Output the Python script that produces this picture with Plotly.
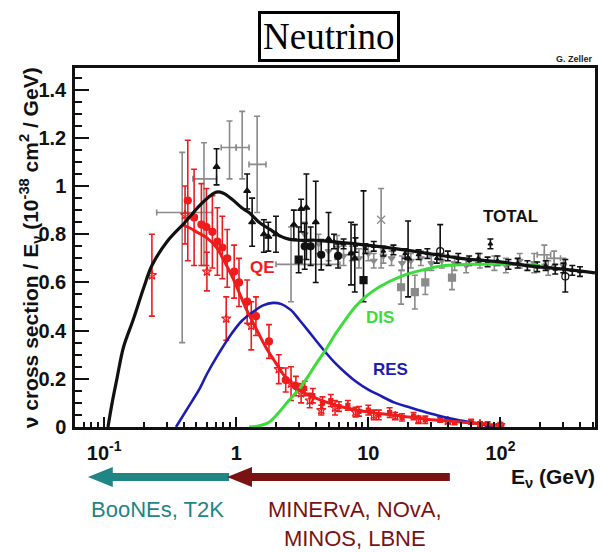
import math
import plotly.graph_objects as go

# ---------------- data ----------------
# model curves (E in GeV, sigma/E in 1e-38 cm^2/GeV)
total_E = [0.107, 0.115, 0.125, 0.14, 0.166, 0.2, 0.23, 0.3, 0.41, 0.53, 0.62, 0.71, 0.8, 0.93,
           1.1, 1.25, 1.49, 1.8, 2.2, 2.5, 3.0, 4.0, 5.0, 8.0, 16, 25, 50, 100, 160, 300, 520]
total_y = [0.0, 0.10, 0.2, 0.33, 0.445, 0.58, 0.67, 0.77, 0.85, 0.92, 0.955, 0.975, 0.97, 0.945,
           0.91, 0.89, 0.85, 0.82, 0.79, 0.78, 0.775, 0.775, 0.77, 0.76, 0.74, 0.725, 0.70, 0.685,
           0.67, 0.655, 0.64]

qe_E = [0.39, 0.45, 0.5, 0.6, 0.71, 0.8, 0.93, 1.05, 1.19, 1.41, 1.68, 2.0, 2.37, 2.97, 4.0,
        5.0, 6.7, 10, 15, 21, 30, 40, 67, 107]
qe_y = [0.84, 0.825, 0.81, 0.785, 0.745, 0.695, 0.625, 0.56, 0.49, 0.41, 0.33, 0.265, 0.205,
        0.155, 0.12, 0.10, 0.08, 0.062, 0.05, 0.04, 0.03, 0.025, 0.015, 0.004]

res_E = [0.35, 0.42, 0.53, 0.6, 0.71, 0.93, 1.1, 1.32, 1.6, 1.9, 2.2, 2.6, 3.0, 3.5, 4.0, 4.75,
         5.5, 6.7, 8, 10, 12, 16, 21, 30, 38, 50, 67, 90]
res_y = [0.0, 0.07, 0.16, 0.22, 0.29, 0.39, 0.44, 0.475, 0.505, 0.515, 0.51, 0.485, 0.445, 0.40,
         0.36, 0.31, 0.27, 0.225, 0.19, 0.155, 0.133, 0.10, 0.08, 0.055, 0.04, 0.027, 0.015, 0.0]

dis_E = [1.25, 1.5, 1.77, 2.1, 2.5, 2.97, 3.5, 4.0, 4.75, 5.7, 6.7, 8, 9.5, 12, 17.7, 25, 38,
         60, 120, 200]
dis_y = [0.0, 0.005, 0.02, 0.06, 0.11, 0.155, 0.21, 0.26, 0.32, 0.39, 0.445, 0.50, 0.54, 0.58,
         0.625, 0.65, 0.67, 0.675, 0.675, 0.67]

# QE data (red)
red_E = [0.43, 0.48, 0.545, 0.595, 0.66, 0.72, 0.785, 0.855, 0.965, 1.05, 1.21, 1.41, 1.77, 2.37, 2.83]
red_y = [0.94, 0.87, 0.84, 0.83, 0.81, 0.77, 0.745, 0.70, 0.645, 0.60, 0.52, 0.46, 0.355, 0.195, 0.17]
red_err = [0.25, 0.20, 0.17, 0.16, 0.15, 0.14, 0.13, 0.12, 0.11, 0.10, 0.09, 0.08, 0.07, 0.05, 0.04]

redo_E = [0.23, 0.41, 0.6, 0.84, 1.3, 2.1, 2.6, 3.1, 3.6, 4.4, 5.6, 8.0, 11, 16, 24, 40, 70, 100]
redo_y = [0.63, 0.88, 0.645, 0.45, 0.42, 0.24, 0.18, 0.14, 0.11, 0.07, 0.08, 0.062, 0.05, 0.045,
          0.03, 0.025, 0.012, 0.008]
redo_err = [0.17, 0.12, 0.08, 0.09, 0.10, 0.06, 0.07, 0.04, 0.03, 0.02, 0.03, 0.02, 0.02, 0.015,
            0.015, 0.01, 0.01, 0.01]

reds_E = [3.3, 3.8, 4.5, 5.2, 6.0, 7.0, 8.5, 10, 12, 14.5, 18, 22, 27, 35, 45, 60, 80]
reds_y = [0.16, 0.13, 0.10, 0.11, 0.085, 0.09, 0.065, 0.07, 0.05, 0.06, 0.04, 0.045, 0.03, 0.03,
          0.02, 0.022, 0.012]
reds_err = [0.03, 0.03, 0.025, 0.025, 0.02, 0.02, 0.02, 0.02, 0.02, 0.02, 0.015, 0.015, 0.015,
            0.01, 0.01, 0.01, 0.01]

# gray data with horizontal bins
grx_E = [0.39, 0.57, 0.89, 1.11, 1.44, 2.6]
grx_y = [0.89, 1.03, 1.16, 1.16, 1.09, 0.675]
grx_xm = [0.14, 0.10, 0.12, 0.11, 0.19, 0.6]
grx_xp = [0.27, 0.14, 0.11, 0.14, 0.24, 3.5]
grx_yp = [0.25, 0.15, 0.11, 0.15, 0.20, 0.155]
grx_ym = [0.54, 0.36, 0.13, 0.13, 0.20, 0.155]

gray2_E = [3.3, 4.2, 5.0, 5.8, 6.5, 7.5, 8.5, 10, 11, 13, 15, 18, 21, 25, 30, 36, 45, 55, 70,
           90, 110, 140, 180, 230, 300]
gray2_y = [0.80, 0.76, 0.73, 0.745, 0.71, 0.72, 0.70, 0.72, 0.69, 0.71, 0.70, 0.68, 0.69, 0.70,
           0.68, 0.69, 0.68, 0.67, 0.69, 0.68, 0.67, 0.69, 0.68, 0.66, 0.67]
gray2_err = [0.05, 0.04, 0.04, 0.05, 0.04, 0.03, 0.04, 0.03, 0.03, 0.03, 0.03, 0.03, 0.03, 0.03,
             0.03, 0.03, 0.03, 0.03, 0.03, 0.03, 0.03, 0.03, 0.04, 0.03, 0.03]

grsq_E = [17.7, 22.5, 27, 43]
grsq_y = [0.58, 0.56, 0.60, 0.62]
grsq_err = [0.07, 0.07, 0.05, 0.05]

grc_E = [215, 255]
grc_y = [0.715, 0.70]
grc_xerr = [25, 30]
grc_err = [0.04, 0.03]

grx2_E = [12.5]
grx2_y = [0.86]
grx2_ep = [0.13]
grx2_em = [0.20]

# black data
blt_E = [0.71, 1.21, 1.32, 1.62, 1.75, 2.0, 2.73, 3.1, 3.4, 4.0, 5.0, 7.4, 7.9, 20]
blt_y = [1.08, 0.98, 0.85, 0.80, 0.79, 0.80, 0.84, 0.905, 0.91, 0.85, 0.78, 0.72, 0.70, 0.70]
blt_ep = [0.075, 0.07, 0.10, 0.06, 0.06, 0.075, 0.06, 0.04, 0.14, 0.17, 0.11, 0.13, 0.14, 0.155]
blt_em = [0.075, 0.075, 0.10, 0.075, 0.06, 0.075, 0.06, 0.095, 0.215, 0.25, 0.11, 0.13, 0.14, 0.16]

blc_E = [3.3, 3.66, 4.4, 5.9]
blc_y = [0.75, 0.75, 0.715, 0.71]
blc_err = [0.095, 0.08, 0.063, 0.05]

bls_E = [2.97, 9.2]
bls_y = [0.695, 0.61]
bls_ep = [0.135, 0.37]
bls_em = [0.055, 0.09]

blo_E = [35, 310]
blo_y = [0.73, 0.625]
blo_ep = [0.11, 0.07]
blo_em = [0.035, 0.065]

bld_E = [5.5, 6.5, 8, 9.5, 11, 13, 15.5, 19, 24, 28, 33, 40, 48, 58, 68, 80, 84, 95, 115, 135,
         160, 190, 220, 260, 300, 350, 400]
bld_y = [0.77, 0.76, 0.755, 0.74, 0.75, 0.73, 0.735, 0.72, 0.715, 0.72, 0.70, 0.71, 0.70, 0.69,
         0.70, 0.685, 0.76, 0.69, 0.675, 0.68, 0.67, 0.665, 0.67, 0.655, 0.66, 0.65, 0.645]
bld_err = [0.03, 0.02, 0.03, 0.02, 0.02, 0.02, 0.02, 0.02, 0.02, 0.02, 0.02, 0.02, 0.02, 0.02,
           0.02, 0.02, 0.02, 0.02, 0.02, 0.02, 0.02, 0.02, 0.02, 0.02, 0.02, 0.02, 0.02]

# axis ticks
y_ticks = [0, 0.2, 0.4, 0.6, 0.8, 1.0, 1.2, 1.4]
y_ticktext = ["0", "0.2", "0.4", "0.6", "0.8", "1", "1.2", "1.4"]
x_ticks = [0.1, 1, 10, 100]
x_ticktext = ["10<sup>-1</sup>", "1", "10", "10<sup>2</sup>"]

# ---------------- colours ----------------
RED = "#ee1c1c"
GRAY = "#8a8a8a"
BLACK = "#111111"
BLUE = "#1c1cb4"
GREEN = "#3cdc3c"
TEAL = "#1f8585"
DRED = "#7a1212"

fig = go.Figure()


def data_trace(E, y, ep, em, color, symbol, size=6, xp=None, xm=None):
    kw = dict(
        x=E, y=y, mode="markers",
        marker=dict(symbol=symbol, size=size, color=color,
                    line=dict(color=color, width=1.2)),
        error_y=dict(type="data", array=ep, arrayminus=em, color=color,
                     thickness=1.6, width=3),
        showlegend=False, hoverinfo="skip",
    )
    if xp is not None:
        kw["error_x"] = dict(type="data", array=xp, arrayminus=xm, color=color,
                             thickness=1.6, width=3)
    fig.add_trace(go.Scatter(**kw))


# gray data
data_trace(grx_E, grx_y, grx_yp, grx_ym, GRAY, "line-ew", 1, grx_xp, grx_xm)
data_trace(gray2_E, gray2_y, gray2_err, gray2_err, GRAY, "triangle-down", 6)
data_trace(grsq_E, grsq_y, grsq_err, grsq_err, GRAY, "square", 7)
data_trace(grc_E, grc_y, grc_err, grc_err, GRAY, "cross-thin", 6, grc_xerr, grc_xerr)
data_trace(grx2_E, grx2_y, grx2_ep, grx2_em, GRAY, "x-thin-open", 8)
# black data
data_trace(bld_E, bld_y, bld_err, bld_err, BLACK, "triangle-up", 4)
data_trace(blt_E, blt_y, blt_ep, blt_em, BLACK, "triangle-up", 6)
data_trace(blc_E, blc_y, blc_err, blc_err, BLACK, "circle", 7)
data_trace(bls_E, bls_y, bls_ep, bls_em, BLACK, "square", 7)
data_trace(blo_E, blo_y, blo_ep, blo_em, BLACK, "circle-open", 7)
# red QE data
data_trace(redo_E, redo_y, redo_err, redo_err, RED, "star-open", 7)
data_trace(reds_E, reds_y, reds_err, reds_err, RED, "square", 4)
data_trace(red_E, red_y, red_err, red_err, RED, "circle", 7)

# model curves
for E, y, c, w in [(res_E, res_y, BLUE, 2.6), (dis_E, dis_y, GREEN, 3.0),
                   (qe_E, qe_y, RED, 3.0), (total_E, total_y, BLACK, 3.2)]:
    fig.add_trace(go.Scatter(x=E, y=y, mode="lines", line=dict(color=c, width=w, shape="spline"),
                             showlegend=False, hoverinfo="skip"))

BOLD = dict(family="Liberation Sans, Arial, sans-serif", weight="bold")

# curve labels (data coordinates; log axis -> log10 for annotations)
labels = [("QE", 1.57, 0.66, RED), ("TOTAL", 119, 0.875, BLACK),
          ("DIS", 12.3, 0.455, GREEN), ("RES", 14.6, 0.24, BLUE)]
for t, ex, ey, c in labels:
    fig.add_annotation(x=math.log10(ex), y=ey, xref="x", yref="y", text=t, showarrow=False,
                       xanchor="center", yanchor="middle",
                       font=dict(size=17, color=c, **BOLD))

# geometry helpers for decorations (pixel -> paper)
L, R, T, B = 75, 598, 68, 427


def px(xp):
    return (xp - L) / (R - L)


def py(yp):
    return (B - yp) / (B - T)


def note(xp, yp, text, font, xanchor="center", **kw):
    fig.add_annotation(x=px(xp), y=py(yp), xref="paper", yref="paper", text=text,
                       showarrow=False, xanchor=xanchor, yanchor="middle", font=font, **kw)


# title box
note(330, 36, "Neutrino", dict(family="Liberation Serif, Times New Roman, serif", size=37,
                                color="black"),
     bordercolor="black", borderwidth=3, borderpad=2, bgcolor="white")
note(598, 59, "G. Zeller", dict(size=9, color="#222", **BOLD), xanchor="right")

# y-axis title
note(30, 248, "ν cross section / E<sub>ν</sub> (10<sup>-38</sup> cm<sup>2</sup> / GeV)",
     dict(size=21, color=BLACK, **BOLD), textangle=-90)
# x-axis title
note(600, 478, "E<sub>ν</sub> (GeV)", dict(size=21, color=BLACK, **BOLD), xanchor="right")


# arrows
def arrow(x_tail, x_tip, yc, color, shaft=8, head_len=25, head_h=20):
    xs = x_tip + head_len
    path = (f"M {px(x_tail)} {py(yc - shaft/2)} L {px(xs)} {py(yc - shaft/2)} "
            f"L {px(xs)} {py(yc - head_h/2)} L {px(x_tip)} {py(yc)} "
            f"L {px(xs)} {py(yc + head_h/2)} L {px(xs)} {py(yc + shaft/2)} "
            f"L {px(x_tail)} {py(yc + shaft/2)} Z")
    fig.add_shape(type="path", path=path, xref="paper", yref="paper",
                  fillcolor=color, line=dict(color=color, width=0))


arrow(230, 88, 477, TEAL)
arrow(452, 228, 477, DRED)

REG = dict(family="Liberation Sans, Arial, sans-serif", size=22)
note(158, 509, "BooNEs, T2K", dict(color=TEAL, **REG))
note(357, 524, "MINERvA, NOvA,<br>MINOS, LBNE", dict(color=DRED, **REG), align="center")

minor_x = [m * 10 ** k for k in range(-2, 3) for m in range(2, 10)]

fig.update_layout(
    width=602, height=552,
    margin=dict(l=L, r=602 - R, t=T, b=552 - B),
    paper_bgcolor="white", plot_bgcolor="white",
    font=dict(family="Liberation Sans, Arial, sans-serif", color=BLACK),
    xaxis=dict(type="log", range=[math.log10(0.0602), math.log10(520)],
               tickmode="array", tickvals=x_ticks, ticktext=x_ticktext,
               ticks="inside", ticklen=10, tickwidth=1.5, tickcolor=BLACK,
               minor=dict(tickmode="array", tickvals=minor_x, ticks="inside", ticklen=5,
                          tickwidth=1.5, tickcolor=BLACK, showgrid=False),
               showgrid=False, zeroline=False, showline=True, linecolor=BLACK, linewidth=2.5,
               mirror=True, tickfont=dict(size=20, color=BLACK, **BOLD), ticklabelstandoff=6),
    yaxis=dict(range=[0, 1.49], tickmode="array", tickvals=y_ticks, ticktext=y_ticktext,
               ticks="inside", ticklen=14, tickwidth=1.5, tickcolor=BLACK,
               minor=dict(dtick=0.05, ticks="inside", ticklen=7, tickwidth=1.5,
                          tickcolor=BLACK, showgrid=False),
               showgrid=False, zeroline=False, showline=True, linecolor=BLACK, linewidth=2.5,
               mirror=True, tickfont=dict(size=20, color=BLACK, **BOLD), ticklabelstandoff=2),
)

fig.write_html("out.html", config={"displayModeBar": False},
               post_script="document.body.style.margin='0';")
